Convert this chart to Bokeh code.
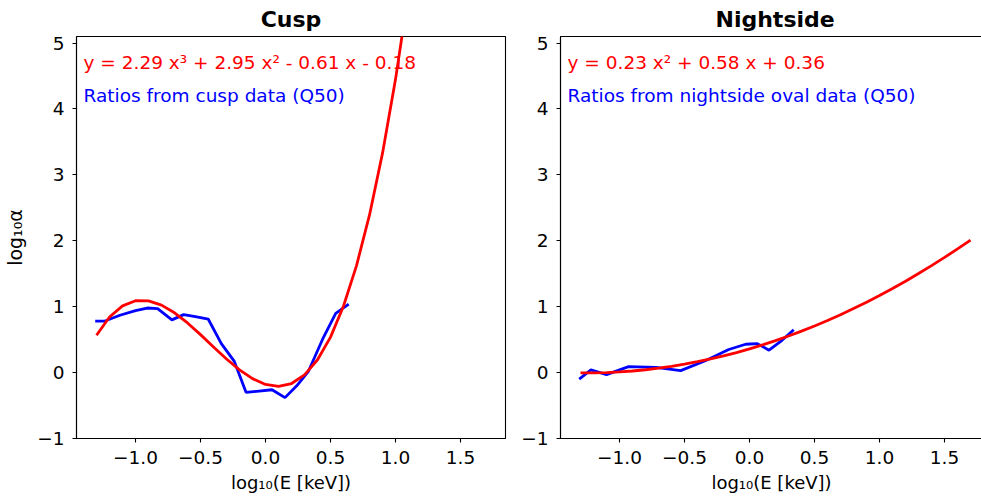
import numpy as np
from bokeh.plotting import figure
from bokeh.layouts import row
from bokeh.models import Range1d, FixedTicker, Label
from bokeh.embed import file_html
from bokeh.resources import INLINE

# ---------------- data ----------------
cusp_x = [-1.31, -1.24, -1.12, -1.00, -0.91, -0.83, -0.72, -0.63, -0.54, -0.44,
          -0.34, -0.24, -0.15, -0.05, 0.05, 0.15, 0.24, 0.33, 0.44, 0.54, 0.64]
cusp_y = [0.78, 0.78, 0.87, 0.94, 0.98, 0.97, 0.80, 0.88, 0.85, 0.81,
          0.44, 0.17, -0.30, -0.28, -0.26, -0.38, -0.20, 0.02, 0.51, 0.90, 1.04]

night_x = [-1.31, -1.22, -1.10, -0.93, -0.72, -0.53, -0.34, -0.16, -0.03, 0.06, 0.15, 0.25, 0.34]
night_y = [-0.10, 0.04, -0.03, 0.09, 0.08, 0.03, 0.18, 0.35, 0.43, 0.44, 0.34, 0.49, 0.65]

# fit coefficients shown in the chart (highest power first)
cusp_coef = [2.29, 2.95, -0.61, -0.18]
night_coef = [0.23, 0.58, 0.36]
fit_x = [-1.3, -1.2, -1.1, -1.0, -0.9, -0.8, -0.7, -0.6, -0.5, -0.4, -0.3, -0.2, -0.1,
         0.0, 0.1, 0.2, 0.3, 0.4, 0.5, 0.6, 0.7, 0.8, 0.9, 1.0, 1.1, 1.2, 1.3, 1.4,
         1.5, 1.6, 1.7]

cusp_fit_y = list(np.polyval(cusp_coef, fit_x))
night_fit_y = list(np.polyval(night_coef, fit_x))

titles = ["Cusp", "Nightside"]
fit_texts = ["y = 2.29 x³ + 2.95 x² - 0.61 x - 0.18", "y = 0.23 x² + 0.58 x + 0.36"]
data_texts = ["Ratios from cusp data (Q50)", "Ratios from nightside oval data  (Q50)"]
x_ticks = [-1.0, -0.5, 0.0, 0.5, 1.0, 1.5]
x_tick_labels = ["−1.0", "−0.5", "0.0", "0.5", "1.0", "1.5"]
y_ticks = [-1, 0, 1, 2, 3, 4, 5]
y_tick_labels = ["−1", "0", "1", "2", "3", "4", "5"]
x_label = "log₁₀(E [keV])"
y_label = "log₁₀α"

FONT = "DejaVu Sans"
RED = "#ff0000"
BLUE = "#0000ff"
FS = "18.5px"


def make_panel(title, bx, by, fy, ftxt, dtxt, xend, fw, mbl, mbr, ylab,
               talign, toffset):
    p = figure(frame_width=fw, frame_height=402, output_backend="svg",
               toolbar_location=None, x_range=Range1d(-1.454, xend),
               y_range=Range1d(-1.0, 5.1), min_border_left=mbl,
               min_border_right=mbr, min_border_top=20, min_border_bottom=60)
    p.title.text = title
    p.title.align = talign
    p.title.offset = toffset
    p.title.text_font = FONT
    p.title.text_font_style = "bold"
    p.title.text_font_size = "22px"
    p.title.text_color = "black"
    p.title.standoff = 9
    p.grid.visible = False
    p.outline_line_color = "black"
    p.outline_line_width = 1.1
    p.outline_line_alpha = 1
    p.background_fill_color = "white"
    p.border_fill_color = "white"

    for ax in (p.xaxis[0], p.yaxis[0]):
        ax.axis_line_color = "black"
        ax.axis_line_width = 1.1
        ax.major_tick_line_color = "black"
        ax.major_tick_line_width = 1.1
        ax.major_tick_out = 4
        ax.major_tick_in = 0
        ax.minor_tick_line_color = None
        ax.major_label_text_font = FONT
        ax.major_label_text_font_size = FS
        ax.major_label_text_color = "black"
        ax.axis_label_text_font = FONT
        ax.axis_label_text_font_size = "18px"
        ax.axis_label_text_font_style = "normal"
        ax.axis_label_text_color = "black"

    p.xaxis.ticker = FixedTicker(ticks=x_ticks)
    p.xaxis.major_label_overrides = dict(zip(x_ticks, x_tick_labels))
    p.yaxis.ticker = FixedTicker(ticks=y_ticks)
    p.yaxis.major_label_overrides = dict(zip(y_ticks, y_tick_labels))
    p.xaxis.major_label_standoff = 8
    p.yaxis.major_label_standoff = 8
    p.xaxis.axis_label = x_label
    p.xaxis.axis_label_standoff = 5
    if ylab:
        p.yaxis.axis_label = ylab
        p.yaxis.axis_label_standoff = 8
        p.yaxis.axis_label_text_font_size = "19px"

    p.line(bx, by, line_color=BLUE, line_width=2.8)
    p.line(fit_x, fy, line_color=RED, line_width=2.8)

    p.add_layout(Label(x=-1.4, y=4.71, text=ftxt, text_color=RED, text_font=FONT,
                       text_font_size=FS, text_baseline="alphabetic"))
    p.add_layout(Label(x=-1.4, y=4.21, text=dtxt, text_color=BLUE, text_font=FONT,
                       text_font_size=FS, text_baseline="alphabetic"))
    return p


p1 = make_panel(titles[0], cusp_x, cusp_y, cusp_fit_y, fit_texts[0], data_texts[0],
                1.846, 429, 76, 13, y_label, "center", 0)
p2 = make_panel(titles[1], night_x, night_y, night_fit_y, fit_texts[1], data_texts[1],
                1.792, 422, 40, 1, None, "left", 155)

layout = row(p1, p2)
open("out.html", "w").write(file_html(layout, INLINE))
